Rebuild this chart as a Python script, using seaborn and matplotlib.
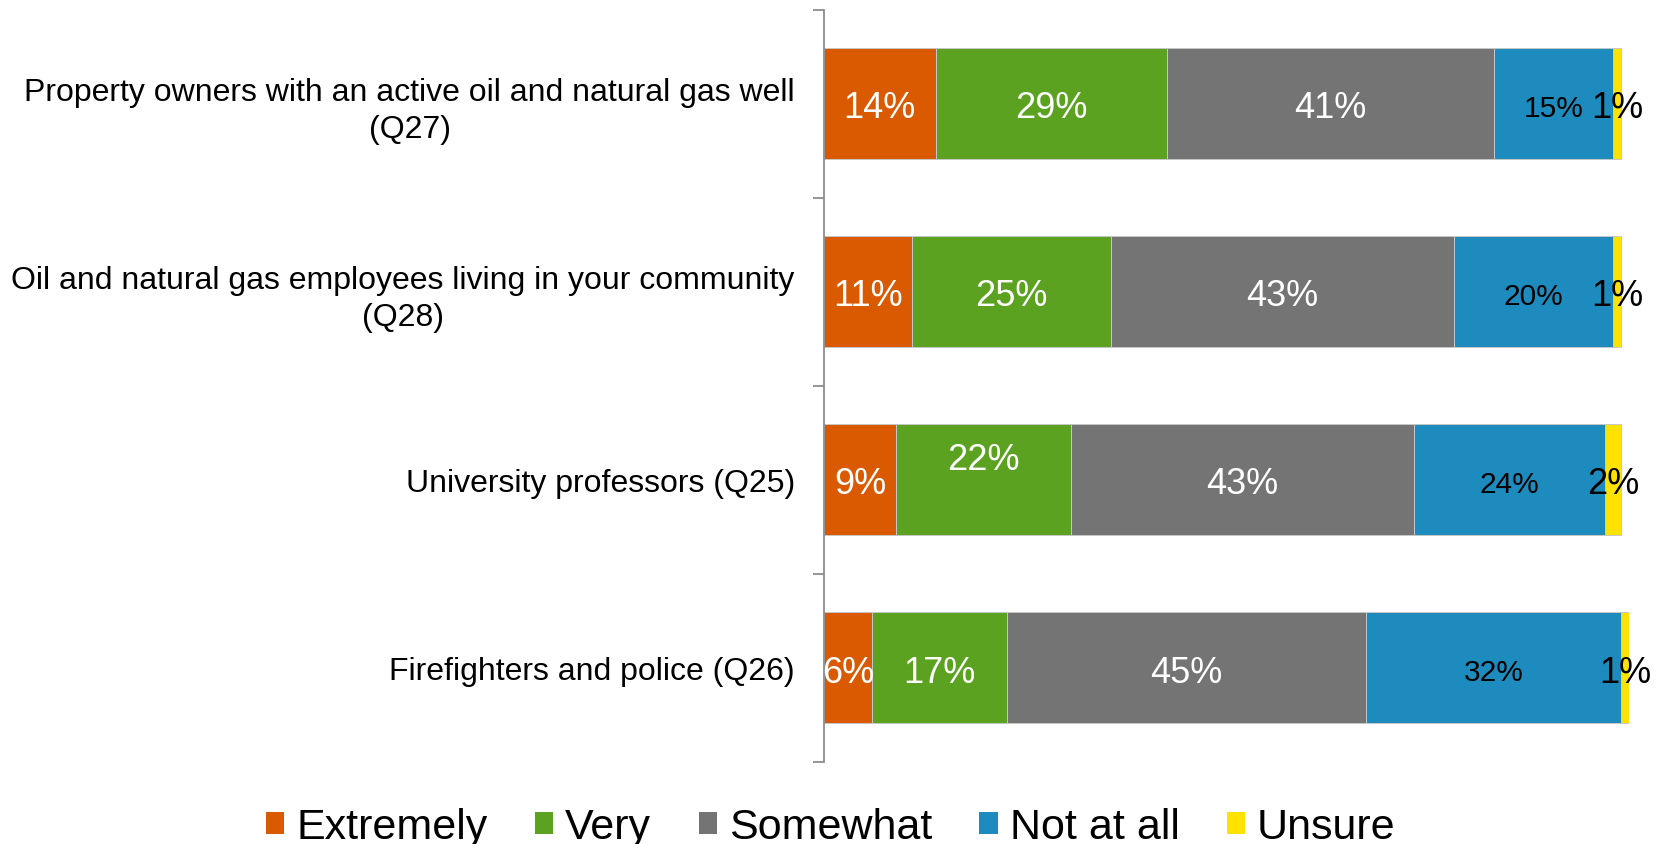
import matplotlib
matplotlib.use("Agg")
import matplotlib.pyplot as plt
from matplotlib.patches import Patch
import numpy as np
import pandas as pd
import seaborn as sns

# Survey groups (top to bottom) and response shares in percent
groups = [
    "Property owners with an active oil and natural gas well\n(Q27)",
    "Oil and natural gas employees living in your community\n(Q28)",
    "University professors (Q25)",
    "Firefighters and police (Q26)",
]
responses = ["Extremely", "Very", "Somewhat", "Not at all", "Unsure"]
extremely = [14, 11, 9, 6]
very = [29, 25, 22, 17]
somewhat = [41, 43, 43, 45]
not_at_all = [15, 20, 24, 32]
unsure = [1, 1, 2, 1]

colors = ["#D95A00", "#5AA220", "#747474", "#1E8BBE", "#FFE200"]
label_colors = ["white", "white", "white", "black", "black"]
label_sizes = [26, 26, 26, 21.5, 26]

sns.set_style("white")
plt.rcParams["font.family"] = ["Liberation Sans", "DejaVu Sans"]
plt.rcParams["text.color"] = "black"
plt.rcParams["ytick.color"] = "black"
plt.rcParams["ytick.labelcolor"] = "black"

df = pd.DataFrame(
    {"group": groups, "Extremely": extremely, "Very": very,
     "Somewhat": somewhat, "Not at all": not_at_all, "Unsure": unsure}
)
cum = df[responses].cumsum(axis=1)

fig = plt.figure(figsize=(16.57, 8.45), dpi=100)
ax = fig.add_axes([0.4973, 0.097, 0.4859, 0.8905])

bar_h = 0.59
# stacked bars: draw cumulative totals from the outermost segment inward
for resp, col in reversed(list(zip(responses, colors))):
    sns.barplot(x=cum[resp], y=df["group"], orient="h", color=col,
                width=bar_h, edgecolor="#c8c8c8", linewidth=0.7,
                saturation=1, ax=ax)

# segment value labels
for j, resp in enumerate(responses):
    for i, g in enumerate(groups):
        v = df.loc[i, resp]
        xc = cum.loc[i, resp] - v / 2
        yc = i + 0.022
        if resp == "Very" and g.startswith("University"):
            yc = i - 0.11
        ax.text(xc, yc, f"{v}%", ha="center", va="center",
                color=label_colors[j], fontsize=label_sizes[j])

ax.set_xlim(0, 101)
ax.set_ylim(3.5, -0.5)
ax.xaxis.set_visible(False)
ax.set_xlabel("")
ax.set_ylabel("")
for side in ["top", "right", "bottom"]:
    ax.spines[side].set_visible(False)
ax.spines["left"].set_color("#8c8c8c")
ax.spines["left"].set_linewidth(1.3)

ax.set_yticks(range(len(groups)))
ax.set_yticklabels(groups, fontsize=23, multialignment="center", linespacing=1.3,
                   color="black")
ax.set_yticks(np.arange(-0.5, len(groups)), minor=True)
ax.tick_params(axis="y", which="major", left=True, length=0, pad=21)
ax.tick_params(axis="y", which="minor", left=True, length=8, width=1.3,
               color="#8c8c8c", direction="out")

handles = [Patch(facecolor=c, edgecolor="none", label=r) for r, c in zip(responses, colors)]
fig.legend(handles=handles, loc="center", bbox_to_anchor=(0.5015, 0.02), ncol=5,
           frameon=False, fontsize=31, handlelength=0.42, handleheight=0.42,
           handletextpad=0.28, columnspacing=1.1, borderaxespad=0)

fig.savefig("out.png", dpi=100, facecolor="white")
